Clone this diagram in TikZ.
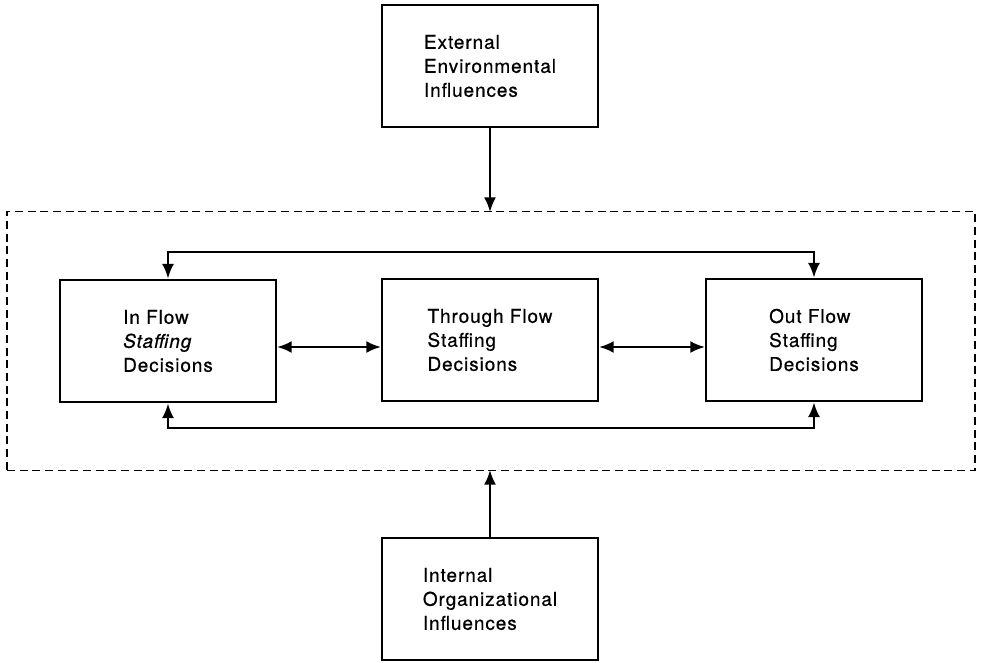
\documentclass[tikz,border=0pt]{standalone}
\usepackage{fontspec}
\setmainfont{TeX Gyre Heros}[LetterSpace=5,FakeBold=0.6]
\usetikzlibrary{arrows.meta}
\begin{document}
\begin{tikzpicture}[x=0.75pt,y=-0.75pt,
  box/.style={draw,line width=1.6pt,minimum width=162pt,minimum height=92pt,align=left,inner sep=0pt,
    font=\fontsize{14.2}{18}\selectfont},
  conn/.style={line width=1.6pt,-{Latex[length=11pt,width=9pt]}},
  dconn/.style={line width=1.6pt,{Latex[length=11pt,width=9pt]}-{Latex[length=11pt,width=9pt]}},
  dashbox/.style={draw,line width=1.1pt,dash pattern=on 6pt off 3.5pt}]
\useasboundingbox (0,0) rectangle (984,662);
\node[box] (ext) at (490,66) {External\\Environmental\\Influences};
\node[box] (int) at (490,599) {Internal\\Organizational\\Influences};
\node[box] (in) at (168,341) {In Flow\\\textit{Staffing}\\Decisions};
\node[box] (thr) at (490,340) {Through Flow\\Staffing\\Decisions};
\node[box] (out) at (814,340) {Out Flow\\Staffing\\Decisions};
\node[dashbox,minimum width=726pt,minimum height=194pt,inner sep=0pt] (sys) at (491,341) {};
\coordinate (sysT) at (490,212);
\coordinate (sysB) at (490,470);
\draw[conn] (ext.south) -- (sysT);
\draw[conn] (int.north) -- (sysB);
\draw[dconn] (in.east |- 0,347) -- (thr.west |- 0,347);
\draw[dconn] (thr.east |- 0,347) -- (out.west |- 0,347);
\coordinate (tl) at (168,252);
\coordinate (bl) at (168,428);
\draw[dconn] (in.north) -- (tl) -| (out.north);
\draw[dconn] (in.south) -- (bl) -| (out.south);
\end{tikzpicture}
\end{document}
